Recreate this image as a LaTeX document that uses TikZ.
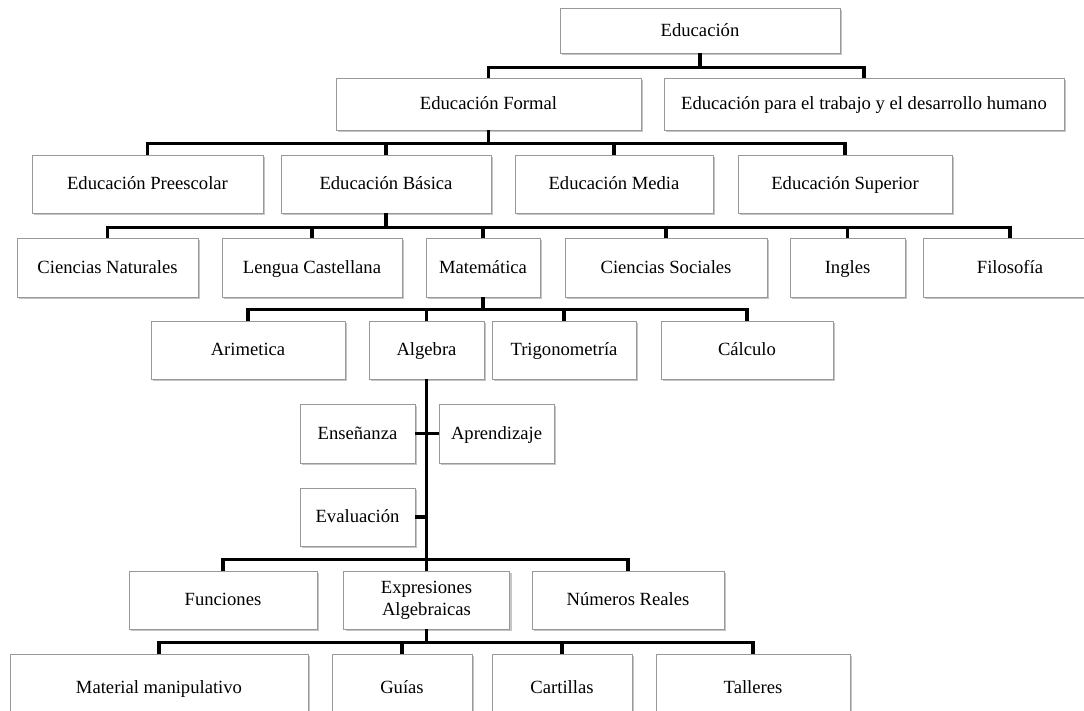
\documentclass[tikz,border=0pt]{standalone}
\usepackage{fontspec}
\setmainfont{Liberation Serif}
\usetikzlibrary{shadows}

\begin{document}
\begin{tikzpicture}[x=0.02cm, y=-0.02cm,
  font=\fontsize{10.6}{12.4}\selectfont,
  box/.style={draw=black!40, line width=0.5pt, fill=white, inner sep=2pt, align=center,
    drop shadow={shadow xshift=1.2pt, shadow yshift=-1.2pt, fill=black!45, opacity=0.5}},
  txt/.style={box, text height=0.8em, text depth=0.14em},
  link/.style={line width=1.8pt, black}]
\useasboundingbox (0,0) rectangle (1084,710);
% niveles
\node[txt, minimum width=280*0.02cm, minimum height=45*0.02cm] (edu) at (700,30.5) {Educación};
\foreach \n/\x/\w/\t in {formal/488.5/305/Educación Formal, trabajo/864/400/Educación para el trabajo y el desarrollo humano}
  \node[txt, minimum width=\w*0.02cm, minimum height=52*0.02cm] (\n) at (\x,104) {\t};
\foreach \n/\x/\w/\t in {pre/147.5/231/Educación Preescolar, basica/386/210/Educación Básica, media/614/198/Educación Media, superior/845/214/Educación Superior}
  \node[txt, minimum width=\w*0.02cm, minimum height=58*0.02cm] (\n) at (\x,184) {\t};
% areas
\foreach \n/\x/\w/\t in {natur/107.5/181/Ciencias Naturales, lengua/312/180/Lengua Castellana, mate/483/114/Matemática, sociales/666/202/Ciencias Sociales, ingles/847.5/115/Ingles, filo/1010/174/Filosofía}
  \node[txt, minimum width=\w*0.02cm, minimum height=59*0.02cm] (\n) at (\x,267.5) {\t};
\foreach \n/\x/\w/\t in {arit/248/194/Arimetica, alg/426.5/115/Algebra, trig/564/144/Trigonometría, calc/747/172/Cálculo}
  \node[txt, minimum width=\w*0.02cm, minimum height=58*0.02cm] (\n) at (\x,350) {\t};
% procesos
\node[txt, minimum width=115*0.02cm, minimum height=59*0.02cm] (ens) at (357.5,433.5) {Enseñanza};
\node[txt, minimum width=115*0.02cm, minimum height=59*0.02cm] (apr) at (496.5,433.5) {Aprendizaje};
\node[txt, minimum width=115*0.02cm, minimum height=58*0.02cm] (eval) at (357.5,517) {Evaluación};
% temas y recursos
\foreach \n/\x/\w/\t in {fun/223/188/Funciones, num/628/192/Números Reales}
  \node[txt, minimum width=\w*0.02cm, minimum height=58*0.02cm] (\n) at (\x,600) {\t};
\node[box, minimum width=166*0.02cm, minimum height=58*0.02cm] (expr) at (426.5,600) {Expresiones\\Algebraicas};
\foreach \n/\x/\w/\t in {manip/159/298/Material manipulativo, guias/402/140/Guías, cart/562/140/Cartillas, tall/753/194/Talleres}
  \node[txt, minimum width=\w*0.02cm, minimum height=68*0.02cm] (\n) at (\x,688) {\t};
% conectores
\foreach \c in {formal,trabajo}
  \draw[link] (edu.south) -- ++(0,14) -| (\c.north);
\foreach \c in {pre,basica,media,superior}
  \draw[link] (formal.south) -- ++(0,13) -| (\c.north);
\foreach \c in {natur,lengua,mate,sociales,ingles,filo}
  \draw[link] (basica.south) -- ++(0,14) -| (\c.north);
\foreach \c in {arit,alg,trig,calc}
  \draw[link] (mate.south) -- ++(0,12) -| (\c.north);
\foreach \c in {fun,expr,num}
  \draw[link] (alg.south) -- ++(0,180) -| (\c.north);
\draw[link] (ens.east) -- (apr.west);
\draw[link] (eval.east) -- (eval.east -| alg.south);
\foreach \c in {manip,guias,cart,tall}
  \draw[link] (expr.south) -- ++(0,13) -| (\c.north);
\end{tikzpicture}
\end{document}
